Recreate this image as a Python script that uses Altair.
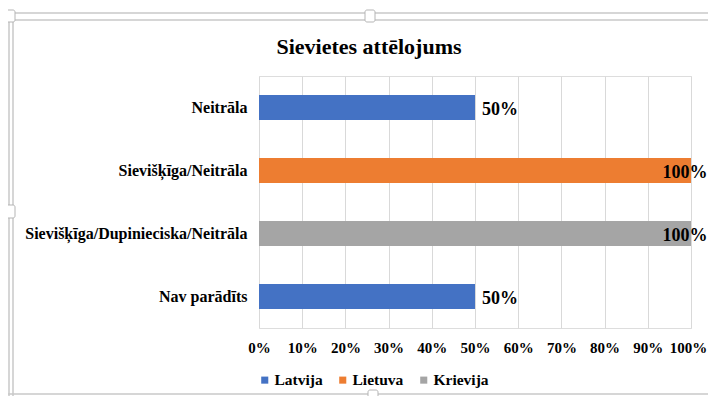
import altair as alt
import pandas as pd

chart_title = "Sievietes attēlojums"
categories = ["Neitrāla", "Sievišķīga/Neitrāla", "Sievišķīga/Dupinieciska/Neitrāla", "Nav parādīts"]
countries = ["Latvija", "Lietuva", "Krievija", "Latvija"]
values = [0.5, 1.0, 1.0, 0.5]
legend_order = ["Latvija", "Lietuva", "Krievija"]
colors = ["#4472C4", "#ED7D31", "#A5A5A5"]
x_ticks = [0, 0.1, 0.2, 0.3, 0.4, 0.5, 0.6, 0.7, 0.8, 0.9, 1.0]

df = pd.DataFrame({"kategorija": categories, "valsts": countries, "vertiba": values})

FONT = "Liberation Serif"

y = alt.Y(
    "kategorija:N", sort=categories, title=None,
    scale=alt.Scale(paddingInner=0.6, paddingOuter=0.3),
    axis=alt.Axis(labelFont=FONT, labelFontSize=16, labelFontWeight="bold",
                  labelColor="#000", ticks=False, domain=False, labelPadding=12,
                  labelLimit=400),
)
x = alt.X(
    "vertiba:Q", title=None,
    scale=alt.Scale(domain=[0, 1], nice=False),
    axis=alt.Axis(format=".0%", values=x_ticks, grid=True, gridColor="#d9d9d9",
                  ticks=False, domain=False, labelFont=FONT, labelFontSize=15,
                  labelFontWeight="bold", labelColor="#000", labelPadding=12,
                  labelFlush=False, labelOverlap=False,
                  labelOffset=alt.expr("datum.value >= 1 ? -3 : 0")),
)

bars = alt.Chart(df).mark_bar().encode(
    x=x, y=y,
    color=alt.Color(
        "valsts:N",
        scale=alt.Scale(domain=legend_order, range=colors),
        legend=alt.Legend(title=None, orient="none", direction="horizontal",
                          legendX=-2, legendY=296, symbolType="square",
                          symbolSize=50, symbolStrokeWidth=0,
                          labelFont=FONT, labelFontSize=15.5, labelFontWeight="bold",
                          labelColor="#000", columnPadding=12, labelOffset=2),
    ),
)

lbl_small = alt.Chart(df).transform_filter("datum.vertiba < 1").mark_text(
    align="left", baseline="middle", dx=7, dy=2, font=FONT, fontSize=18,
    fontWeight="bold", color="#000",
).encode(x="vertiba:Q", y=alt.Y("kategorija:N", sort=categories),
         text=alt.Text("vertiba:Q", format=".0%"))

lbl_full = alt.Chart(df).transform_filter("datum.vertiba >= 1").mark_text(
    align="center", baseline="middle", dx=-6, dy=2, font=FONT, fontSize=18,
    fontWeight="bold", color="#000",
).encode(x="vertiba:Q", y=alt.Y("kategorija:N", sort=categories),
         text=alt.Text("vertiba:Q", format=".0%"))

one = alt.Data(values=[{"k": 0}])
FRAME = "#c8c8c8"

title_mark = alt.Chart(one).mark_text(
    font=FONT, fontSize=22, fontWeight="bold", color="#000",
    align="center", baseline="middle",
).encode(x=alt.value(110), y=alt.value(-29), text=alt.value(chart_title))


def hline(yv, x1, x2):
    return alt.Chart(one).mark_rule(color=FRAME, strokeWidth=1.5).encode(
        x=alt.value(x1), x2=alt.value(x2), y=alt.value(yv))


def vline(xv, y1, y2):
    return alt.Chart(one).mark_rule(color=FRAME, strokeWidth=1.5).encode(
        x=alt.value(xv), y=alt.value(y1), y2=alt.value(y2))


def handle(x1, x2, y1, y2):
    return alt.Chart(one).mark_rect(fill="white", stroke="#b5b5b5", strokeWidth=1,
                                    cornerRadius=2).encode(
        x=alt.value(x1), x2=alt.value(x2), y=alt.value(y1), y2=alt.value(y2))


decor = [
    hline(-63, -252, 449),
    hline(-56, -246, 449),
    vline(-250, -63, 330),
    vline(-246, -56, 330),
    hline(318, -252, 449),
    handle(-254, -244, -66, -54),
    handle(106, 116, -66, -54),
    handle(-255, -244, 129, 142),
    handle(109, 119, 314, 322),
]

chart = alt.layer(*decor, title_mark, bars, lbl_small, lbl_full).properties(
    width=432, height=252,
    autosize=alt.AutoSizeParams(type="none"),
    padding={"left": 251, "top": 68, "right": 17, "bottom": 68},
).configure_view(stroke=None).configure(background="white")

chart.save("out.html", embed_options={"renderer": "svg", "actions": False})
